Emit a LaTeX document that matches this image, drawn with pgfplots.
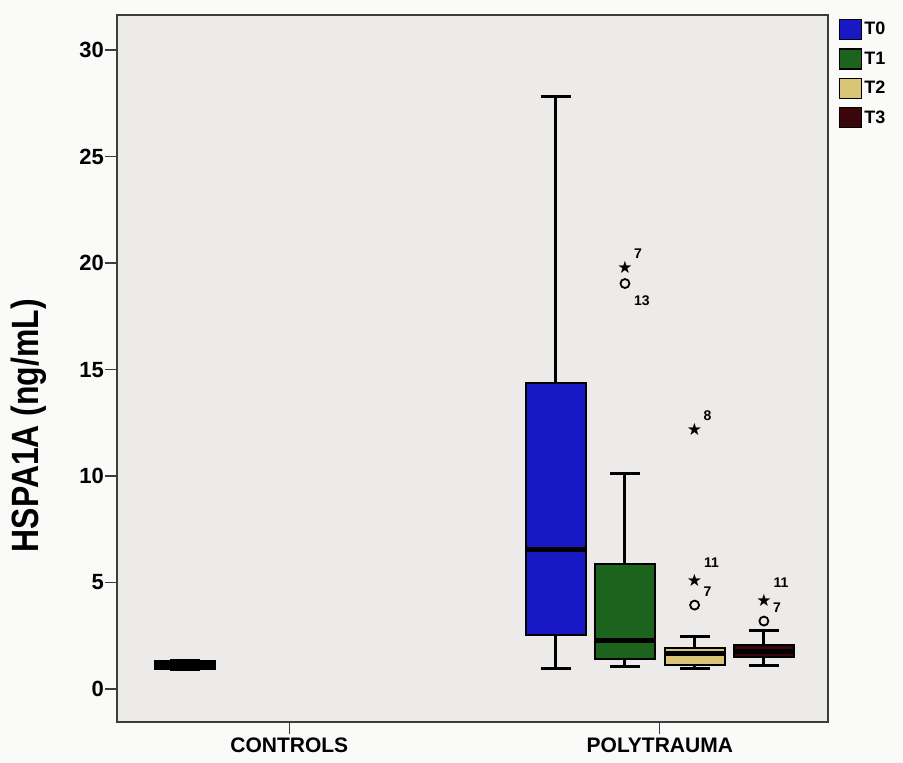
\documentclass[border=0pt]{standalone}
\usepackage{pgfplots}
\pgfplotsset{compat=1.18}
\usepgfplotslibrary{statistics}
\usepackage{fontspec}
\setmainfont{Liberation Sans}
\newfontfamily\dejavu{DejaVu Sans}
\definecolor{t0}{RGB}{24,24,196}
\definecolor{t1}{RGB}{28,100,30}
\definecolor{t2}{RGB}{218,196,118}
\definecolor{t3}{RGB}{58,6,10}
\definecolor{bgin}{RGB}{236,235,233}
\definecolor{bgout}{RGB}{250,250,249}
\definecolor{axisgray}{RGB}{60,60,60}
\begin{document}
\begin{tikzpicture}
\fill[bgout] (-117pt,-41pt) rectangle (786pt,722pt);
\useasboundingbox (-117pt,-41pt) rectangle (786pt,722pt);
\begin{axis}[at={(0,0)}, anchor=south west,
  width=711pt, height=707pt, scale only axis,
  xmin=0.535, xmax=2.454, ymin=-1.55, ymax=31.65,
  axis background/.style={fill=bgin},
  axis line style={draw=axisgray, line width=1.8pt},
  ytick={0,5,...,30}, xtick={1,2}, xticklabels={CONTROLS,POLYTRAUMA},
  tick align=outside, major tick length=12pt, ytick pos=left, xtick pos=bottom,
  tick style={line width=1.4pt, color=axisgray},
  yticklabel style={font=\bfseries\fontsize{22}{22}\selectfont, inner xsep=1pt},
  xticklabel style={font=\bfseries\fontsize{21}{21}\selectfont, yshift=0pt},
  /pgf/number format/assume math mode=true,
  ylabel={\scalebox{0.84}[1]{HSPA1A (ng/mL)}},
  ylabel style={font=\bfseries\fontsize{38}{38}\selectfont, at={(axis description cs:-0.124,0.419)}, anchor=center},
  boxplot/draw direction=y,
  boxplot/every box/.style={draw=black, line width=2pt},
  boxplot/every whisker/.style={draw=black, line width=3pt},
  boxplot/every median/.style={draw=black, line width=5pt},
  legend style={at={(axis description cs:1.015,0.995)}, anchor=north west, draw=none, fill=none,
    font=\bfseries\fontsize{18}{18}\selectfont, row sep=8pt, inner sep=0pt, cells={anchor=west}},
  legend image code/.code={\draw[#1, line width=1.4pt] (0pt,-10pt) rectangle (22pt,10pt);},
  clip=false,
]
% Controls
\addplot[forget plot, fill=black, draw=black, boxplot prepared={draw position=0.719, lower whisker=0.92, lower quartile=0.95, median=1.1, upper quartile=1.3, upper whisker=1.33, box extend=0.162, whisker extend=0.081}] coordinates {};
% Polytrauma
\addplot[forget plot, fill=t0, boxplot prepared={draw position=1.719, lower whisker=0.96, lower quartile=2.53, median=6.53, upper quartile=14.38, upper whisker=27.8, box extend=0.162, whisker extend=0.081}] coordinates {};
\addplot[forget plot, fill=t1, boxplot prepared={draw position=1.906, lower whisker=1.04, lower quartile=1.40, median=2.29, upper quartile=5.87, upper whisker=10.14, box extend=0.162, whisker extend=0.081}] coordinates {};
\addplot[forget plot, fill=t2, boxplot prepared={draw position=2.094, lower whisker=0.96, lower quartile=1.12, median=1.66, upper quartile=1.93, upper whisker=2.45, box extend=0.162, whisker extend=0.081}] coordinates {};
\addplot[forget plot, fill=t3, boxplot prepared={draw position=2.281, lower whisker=1.12, lower quartile=1.51, median=1.74, upper quartile=2.06, upper whisker=2.76, box extend=0.162, whisker extend=0.081}] coordinates {};
% extreme outliers (stars), label upper right
\addplot[forget plot, only marks, mark=text, text mark={\dejavu\fontsize{17}{17}\selectfont ★},
  nodes near coords, point meta=explicit symbolic,
  every node near coord/.style={font=\bfseries\fontsize{14}{14}\selectfont, anchor=center, xshift=13pt, yshift=14pt}]
  table[meta=lab] {
  x y lab
  1.906 19.78 7
  2.094 12.19 8
  };
\addplot[forget plot, only marks, mark=text, text mark={\dejavu\fontsize{17}{17}\selectfont ★},
  nodes near coords, point meta=explicit symbolic,
  every node near coord/.style={font=\bfseries\fontsize{14}{14}\selectfont, anchor=center, xshift=17pt, yshift=17pt}]
  table[meta=lab] {
  x y lab
  2.094 5.12 11
  2.281 4.18 11
  };
% outliers (circles), label upper right
\addplot[forget plot, only marks, mark=o, mark size=4.5pt, mark options={line width=1.8pt, draw=black},
  nodes near coords, point meta=explicit symbolic,
  every node near coord/.style={font=\bfseries\fontsize{14}{14}\selectfont, anchor=center, xshift=13pt, yshift=13pt}]
  table[meta=lab] {
  x y lab
  2.094 3.94 7
  2.281 3.19 7
  };
\addplot[forget plot, only marks, mark=o, mark size=4.5pt, mark options={line width=1.8pt, draw=black},
  nodes near coords, point meta=explicit symbolic,
  every node near coord/.style={font=\bfseries\fontsize{14}{14}\selectfont, anchor=center, xshift=17pt, yshift=-17pt}]
  table[meta=lab] {
  x y lab
  1.906 19.04 13
  };
\addlegendimage{fill=t0, draw=black}
\addlegendentry{T0}
\addlegendimage{fill=t1, draw=black}
\addlegendentry{T1}
\addlegendimage{fill=t2, draw=black}
\addlegendentry{T2}
\addlegendimage{fill=t3, draw=black}
\addlegendentry{T3}
\end{axis}
\end{tikzpicture}
\end{document}
